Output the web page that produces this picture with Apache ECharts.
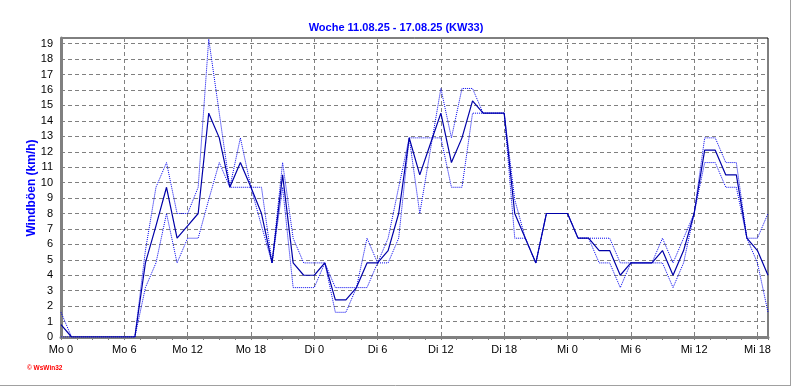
<!DOCTYPE html>
<html><head><meta charset="utf-8">
<script src="https://cdn.jsdelivr.net/npm/echarts@6/dist/echarts.min.js"></script>
<style>html,body{margin:0;padding:0;background:#fff}#c{width:792px;height:387px}</style>
</head><body><div id="c"></div>
<script>
const hours = [0,1,2,3,4,5,6,7,8,9,10,11,12,13,14,15,16,17,18,19,20,21,22,23,
  24,25,26,27,28,29,30,31,32,33,34,35,36,37,38,39,40,41,42,43,44,45,46,47,
  48,49,50,51,52,53,54,55,56,57,58,59,60,61,62,63,64,65,66,67];
const gustMain = [0.8,0,0,0,0,0,0,0,4.8,7.2,9.7,6.4,7.2,8.0,14.5,12.9,9.7,11.3,9.7,8.0,4.8,10.5,4.8,4.0,
  4.0,4.8,2.4,2.4,3.2,4.8,4.8,5.6,8.0,12.9,10.5,12.5,14.5,11.3,12.9,15.3,14.5,14.5,14.5,8.0,6.4,4.8,8.0,8.0,
  8.0,6.4,6.4,5.6,5.6,4.0,4.8,4.8,4.8,5.6,4.0,5.6,8.0,12.1,12.1,10.5,10.5,6.4,5.6,4.0];
const gustDotA = [1.6,0,0,0,0,0,0,0,5.6,9.7,11.3,8.0,8.0,9.7,19.3,14.5,9.7,12.9,9.7,7.2,4.8,11.3,6.4,4.8,
  4.8,4.8,3.2,3.2,3.2,3.2,4.8,6.4,9.7,12.9,8.0,12.1,16.1,12.9,16.1,16.1,14.5,14.5,14.5,8.9,6.4,4.8,8.0,8.0,
  8.0,6.4,6.4,6.4,6.4,4.8,4.8,4.8,4.8,6.4,4.8,6.4,8.0,12.9,12.9,11.3,11.3,6.4,6.4,8.0];
const gustDotB = [0,0,0,0,0,0,0,0,3.2,4.8,8.0,4.8,6.4,6.4,8.9,11.3,9.7,9.7,9.7,9.7,4.8,9.7,3.2,3.2,
  3.2,4.8,1.6,1.6,3.2,6.4,4.8,4.8,6.4,12.9,12.9,12.9,12.9,9.7,9.7,14.5,14.5,14.5,14.5,6.4,6.4,4.8,8.0,8.0,
  8.0,6.4,6.4,4.8,4.8,3.2,4.8,4.8,4.8,4.8,3.2,4.8,8.0,11.3,11.3,9.7,9.7,6.4,4.8,1.6];
const xTickLabels = ['Mo 0','Mo 6','Mo 12','Mo 18','Di 0','Di 6','Di 12','Di 18','Mi 0','Mi 6','Mi 12','Mi 18'];
const yTickLabels = [0,1,2,3,4,5,6,7,8,9,10,11,12,13,14,15,16,17,18,19];

const pair = arr => hours.map((h, i) => [h, arr[i]]);
const font = 'Liberation Sans, Arial, sans-serif';
const grey = '#808080';
const chart = echarts.init(document.getElementById('c'), null, {renderer: 'canvas'});
chart.setOption({
  animation: false,
  backgroundColor: '#fff',
  title: {
    text: 'Woche 11.08.25 - 17.08.25 (KW33)', left: 'center', top: 17,
    textStyle: {color: '#0000FF', fontSize: 11, fontWeight: 'bold', fontFamily: font}
  },
  grid: {left: 61, right: 24, top: 38, bottom: 50, show: true, borderColor: '#000', borderWidth: 1, backgroundColor: 'transparent'},
  xAxis: {
    type: 'value', min: 0, max: 67, interval: 6,
    axisLine: {onZero: false, lineStyle: {color: grey, width: 3}},
    axisTick: {show: true, length: 3, lineStyle: {color: grey}},
    minorTick: {show: true, splitNumber: 4, length: 3, lineStyle: {color: grey}},
    splitLine: {show: true, showMinLine: false, showMaxLine: false, lineStyle: {color: grey, width: 1, type: [4, 3]}},
    axisLabel: {
      margin: 7, color: '#000', fontSize: 11, fontFamily: font, showMaxLabel: false,
      formatter: v => xTickLabels[Math.round(v / 6)] || ''
    }
  },
  yAxis: {
    type: 'value', min: 0, max: 19.37, interval: 1,
    axisLine: {show: true, onZero: false, lineStyle: {color: grey, width: 3}},
    axisTick: {show: false},
    splitLine: {show: true, showMinLine: false, showMaxLine: false, lineStyle: {color: grey, width: 1, type: [4, 3]}},
    axisLabel: {
      margin: 8, color: '#000', fontSize: 11, fontFamily: font, showMaxLabel: false,
      formatter: v => (yTickLabels.indexOf(v) >= 0 ? String(v) : '')
    }
  },
  graphic: [
    {type: 'text', x: 32, y: 188, rotation: Math.PI / 2,
     style: {text: 'Windböen (km/h)', fill: '#0000FF', font: 'bold 12px ' + font, textAlign: 'center', textVerticalAlign: 'middle'}},
    {type: 'text', x: 27, y: 368,
     style: {text: '© WsWin32', fill: '#FF0000', font: 'bold 6.5px ' + font, textAlign: 'left', textVerticalAlign: 'middle'}},
    {type: 'line', shape: {x1: 790.5, y1: 0, x2: 790.5, y2: 386}, style: {stroke: '#a0a0a0', lineWidth: 1}},
    {type: 'line', shape: {x1: 0, y1: 385.5, x2: 791, y2: 385.5}, style: {stroke: '#a0a0a0', lineWidth: 1}}
  ],
  series: [
    {type: 'line', data: pair(gustDotA), symbol: 'none', z: 2, lineStyle: {color: '#0000EE', width: 1, type: 'dotted'}},
    {type: 'line', data: pair(gustDotB), symbol: 'none', z: 2, lineStyle: {color: '#0000EE', width: 1, type: 'dotted'}},
    {type: 'line', data: pair(gustMain), symbol: 'none', z: 3, lineStyle: {color: '#0000A8', width: 1.2}}
  ]
});
</script></body></html>
